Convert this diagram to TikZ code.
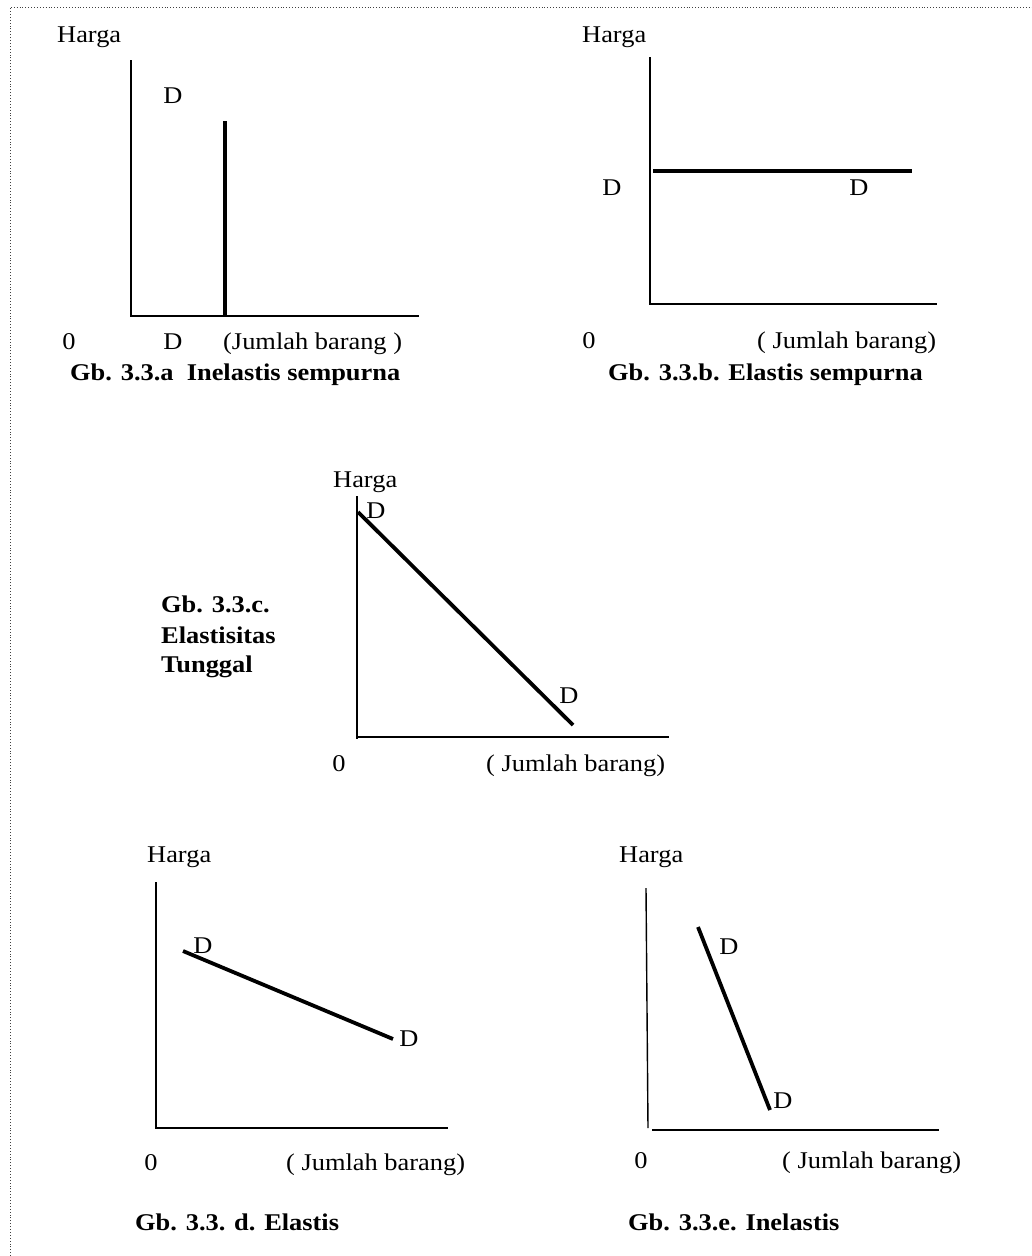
\documentclass[tikz,border=0pt]{standalone}
\usepackage{fontspec}
\setmainfont[FakeStretch=1.1]{Liberation Serif}
\usetikzlibrary{positioning}

\newcommand{\figfont}{\fontsize{24}{30}\selectfont}

\begin{document}
\begin{tikzpicture}[x=1pt,y=-1pt,
    axis/.style={line width=1.4pt},
    demand/.style={line width=3.8pt},
    lbl/.style={font=\figfont,inner sep=0pt},
    figcap/.style={font=\figfont\bfseries,inner sep=0pt},
    pageframe/.style={dotted,line width=0.9pt,black!75}]

    \useasboundingbox (0,0) rectangle (1032,1256);

    % dotted page frame
    \coordinate (fbot) at (10,1256);
    \coordinate (fcorner) at (10,7);
    \coordinate (fright) at (1032,7);
    \draw[pageframe] (fbot) -- (fcorner) -- (fright);

    % Gb. 3.3.a
    \coordinate (ay) at (131,60);
    \coordinate (ao) at (131,316);
    \coordinate (ax) at (419,316);
    \draw[axis] (ay) -- (ao) -- (ax);
    \coordinate (adtop) at (225,121);
    \coordinate (adbot) at (225,316);
    \draw[demand] (adtop) -- (adbot);
    \node[lbl,anchor=base west] (aharga) at (57,42) {Harga};
    \node[lbl,anchor=base] (ad1) at (173,103) {D};
    \node[lbl,anchor=base] (azero) at (69,349) {0};
    \node[lbl,anchor=base] (ad2) at (173,349) {D};
    \node[lbl,anchor=base west] (aqty) at (223,349) {(Jumlah barang )};
    \node[figcap,anchor=base west] (acap) at (70,380) {Gb. 3.3.a\ \ Inelastis sempurna};

    % Gb. 3.3.b
    \coordinate (by) at (650,57);
    \coordinate (bo) at (650,304);
    \coordinate (bx) at (937,304);
    \draw[axis] (by) -- (bo) -- (bx);
    \coordinate (bdleft) at (653,171);
    \coordinate (bdright) at (912,171);
    \draw[demand] (bdleft) -- (bdright);
    \node[lbl,anchor=base west] (bharga) at (582,42) {Harga};
    \node[lbl,anchor=base] (bd1) at (612,195) {D};
    \node[lbl,anchor=base] (bd2) at (859,195) {D};
    \node[lbl,anchor=base] (bzero) at (589,348) {0};
    \node[lbl,anchor=base west] (bqty) at (757,348) {( Jumlah barang)};
    \node[figcap,anchor=base west] (bcap) at (608,380) {Gb. 3.3.b. Elastis sempurna};

    % Gb. 3.3.c
    \coordinate (cy) at (357,496);
    \coordinate (co) at (357,739);
    \coordinate (cx) at (669,737);
    \draw[axis] (cy) -- (co);
    \draw[axis] (co |- cx) -- (cx);
    \coordinate (cdtop) at (358,512);
    \coordinate (cdbot) at (573,725);
    \draw[demand] (cdtop) -- (cdbot);
    \node[lbl,anchor=base west] (charga) at (333,487) {Harga};
    \node[lbl,anchor=base] (cd1) at (376,518) {D};
    \node[lbl,anchor=base] (cd2) at (569,703) {D};
    \node[lbl,anchor=base] (czero) at (339,771) {0};
    \node[lbl,anchor=base west] (cqty) at (486,771) {( Jumlah barang)};
    \node[figcap,anchor=base west] (ccap1) at (161,612) {Gb. 3.3.c.};
    \node[figcap,anchor=base west] (ccap2) at (161,643) {Elastisitas};
    \node[figcap,anchor=base west] (ccap3) at (161,672) {Tunggal};

    % Gb. 3.3.d
    \coordinate (dy) at (156,882);
    \coordinate (do) at (156,1128);
    \coordinate (dx) at (448,1128);
    \draw[axis] (dy) -- (do) -- (dx);
    \coordinate (ddtop) at (183,951);
    \coordinate (ddbot) at (393,1039);
    \draw[demand] (ddtop) -- (ddbot);
    \node[lbl,anchor=base west] (dharga) at (147,862) {Harga};
    \node[lbl,anchor=base] (dd1) at (203,953) {D};
    \node[lbl,anchor=base] (dd2) at (409,1046) {D};
    \node[lbl,anchor=base] (dzero) at (151,1170) {0};
    \node[lbl,anchor=base west] (dqty) at (286,1170) {( Jumlah barang)};
    \node[figcap,anchor=base west] (dcap) at (135,1230) {Gb. 3.3. d. Elastis};

    % Gb. 3.3.e
    \coordinate (ey) at (646,888);
    \coordinate (eo) at (648,1128);
    \coordinate (exl) at (652,1130);
    \coordinate (ex) at (939,1130);
    \draw[axis] (ey) -- (eo);
    \draw[axis] (exl) -- (ex);
    \coordinate (edtop) at (698,927);
    \coordinate (edbot) at (770,1110);
    \draw[demand] (edtop) -- (edbot);
    \node[lbl,anchor=base west] (eharga) at (619,862) {Harga};
    \node[lbl,anchor=base] (ed1) at (729,954) {D};
    \node[lbl,anchor=base] (ed2) at (783,1108) {D};
    \node[lbl,anchor=base] (ezero) at (641,1168) {0};
    \node[lbl,anchor=base west] (eqty) at (782,1168) {( Jumlah barang)};
    \node[figcap,anchor=base west] (ecap) at (628,1230) {Gb. 3.3.e. Inelastis};
\end{tikzpicture}
\end{document}
